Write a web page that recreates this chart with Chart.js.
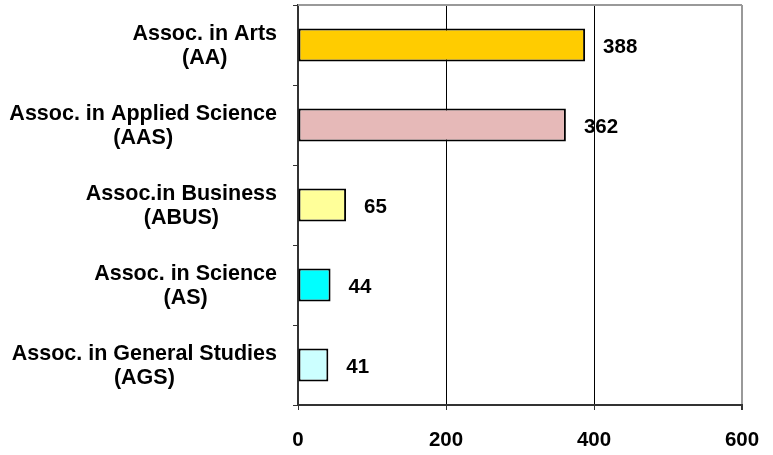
<!DOCTYPE html>
<html>
<head>
<meta charset="utf-8">
<script src="https://cdn.jsdelivr.net/npm/chart.js@4/dist/chart.umd.min.js"></script>
<style>
  html, body { margin: 0; padding: 0; background: #fff; }
  #wrap { width: 773px; height: 455px; }
</style>
</head>
<body>
<div id="wrap"><canvas id="degChart" width="773" height="455"></canvas></div>
<script>
// degrees awarded by program
const programs = [
  ["Assoc. in Arts", "(AA)"],
  ["Assoc. in Applied Science", "(AAS)"],
  ["Assoc.in Business", "(ABUS)"],
  ["Assoc. in Science", "(AS)"],
  ["Assoc. in General Studies", "(AGS)"]
];
const counts = [388, 362, 65, 44, 41];
const barColors = ["#FFCC00", "#E6B9B8", "#FFFF99", "#00FFFF", "#CCFFFF"];
const xTicks = [0, 200, 400, 600];

const FONT = "'Liberation Sans', Arial, sans-serif";

// category labels: block right-aligned to the axis, lines centred on each other
const catLabels = {
  id: 'catLabels',
  afterDraw(chart) {
    const ctx = chart.ctx;
    const y = chart.scales.y;
    ctx.save();
    ctx.font = "bold 21.5px " + FONT;
    ctx.fillStyle = "#000";
    ctx.textAlign = "center";
    ctx.textBaseline = "middle";
    const right = chart.chartArea.left - 21;
    programs.forEach((lines, i) => {
      const cy = y.getPixelForValue(i);
      const w = Math.max(...lines.map(l => ctx.measureText(l).width));
      const cx = right - w / 2;
      ctx.fillText(lines[0], cx, cy - 11);
      ctx.fillText(lines[1], cx, cy + 13);
    });
    ctx.restore();
  }
};

// value labels to the right of each bar + top frame line
const valueLabels = {
  id: 'valueLabels',
  afterDatasetsDraw(chart) {
    const ctx = chart.ctx;
    const meta = chart.getDatasetMeta(0);
    const area = chart.chartArea;
    ctx.save();
    ctx.strokeStyle = "#999";
    ctx.lineWidth = 2;
    ctx.beginPath();
    ctx.moveTo(area.left, area.top);
    ctx.lineTo(area.right, area.top);
    ctx.stroke();

    ctx.font = "bold 20.5px " + FONT;
    ctx.fillStyle = "#000";
    ctx.textAlign = "left";
    ctx.textBaseline = "middle";
    meta.data.forEach((bar, i) => {
      ctx.fillText(String(counts[i]), bar.x + 18, bar.y + 2);
    });
    ctx.restore();
  }
};

new Chart(document.getElementById('degChart').getContext('2d'), {
  type: 'bar',
  data: {
    labels: programs,
    datasets: [{
      data: counts,
      backgroundColor: barColors,
      borderColor: "#000",
      borderWidth: 2,
      borderSkipped: false,
      barPercentage: 0.41,
      categoryPercentage: 1
    }]
  },
  options: {
    indexAxis: 'y',
    responsive: false,
    animation: false,
    layout: { padding: { left: 293, right: 31, top: 5, bottom: 5 } },
    plugins: { legend: { display: false }, tooltip: { enabled: false } },
    scales: {
      x: {
        min: 0,
        max: 600,
        afterBuildTicks: (axis) => { axis.ticks = xTicks.map(v => ({ value: v })); },
        afterFit: (axis) => {
          axis.height = 45;
          axis.paddingLeft = 0;
          axis.paddingRight = 0;
        },
        ticks: {
          color: "#000",
          padding: 18,
          maxRotation: 0,
          font: { family: FONT, size: 20.5, weight: 'bold' }
        },
        grid: {
          color: (c) => c.tick && c.tick.value === 600 ? "#999" : (c.tick && c.tick.value === 0 ? "rgba(0,0,0,0)" : "#000"),
          lineWidth: (c) => c.tick && c.tick.value === 600 ? 2 : 1,
          tickColor: "#333",
          tickLength: 5
        },
        border: { color: "#333", width: 2 }
      },
      y: {
        offset: true,
        ticks: { display: false },
        grid: {
          offset: true,
          drawOnChartArea: false,
          tickColor: "#333",
          tickLength: 5
        },
        border: { color: "#333", width: 2 }
      }
    }
  },
  plugins: [catLabels, valueLabels]
});
</script>
</body>
</html>
